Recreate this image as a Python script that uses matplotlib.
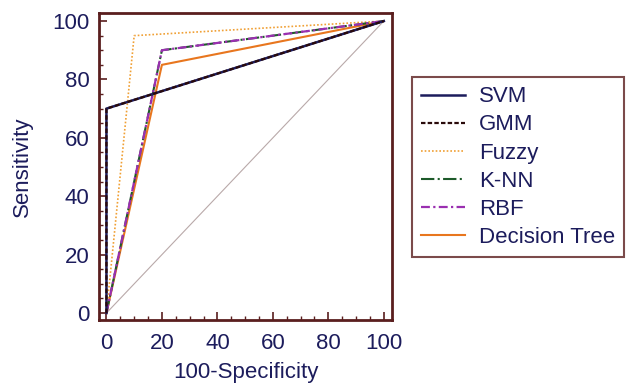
import numpy as np
import matplotlib
matplotlib.use("Agg")
import matplotlib.pyplot as plt
from matplotlib.ticker import MultipleLocator

plt.rcParams['font.family'] = ['Liberation Sans', 'DejaVu Sans']

# ROC points (100-specificity, sensitivity)
svm_x = [0, 0, 100]
svm_y = [0, 70, 100]
gmm_x = [0, 0, 100]
gmm_y = [0, 70, 100]
fuzzy_x = [0, 10, 100]
fuzzy_y = [0, 95, 100]
knn_x = [0, 20, 100]
knn_y = [0, 90, 100]
rbf_x = [0, 20, 100]
rbf_y = [0, 90, 100]
tree_x = [0, 20, 100]
tree_y = [0, 85, 100]
diag = [0, 100]

navy = '#1c1c5c'
frame = '#5a1e1e'

fig = plt.figure(figsize=(6.28, 3.87), dpi=100)
ax = fig.add_axes([0.158, 0.173, 0.466, 0.793])

ax.plot(diag, diag, color='#b9a9a9', lw=0.8)
ax.plot(fuzzy_x, fuzzy_y, color='#f0a035', lw=1.2, ls=(0, (1, 1.2)), label='Fuzzy')
ax.plot(tree_x, tree_y, color='#e8761e', lw=1.5, label='Decision Tree')
ax.plot(knn_x, knn_y, color='#1d5a2a', lw=1.5, ls='-.', label='K-NN')
ax.plot(rbf_x, rbf_y, color='#9a2fb0', lw=1.6, ls=(0, (4, 1.5, 1, 1.5)), label='RBF')
ax.plot(svm_x, svm_y, color='#1c1c5c', lw=1.8, label='SVM')
ax.plot(gmm_x, gmm_y, color='#2a0a0a', lw=1.6, ls=(0, (2, 1)), label='GMM')

ax.set_xlim(-2.6, 102.9)
ax.set_ylim(-2.4, 102.7)
ax.xaxis.set_major_locator(MultipleLocator(20))
ax.yaxis.set_major_locator(MultipleLocator(20))
ax.xaxis.set_minor_locator(MultipleLocator(5))
ax.yaxis.set_minor_locator(MultipleLocator(5))
ax.tick_params(which='major', direction='in', length=6, width=1.2, color=frame,
               labelsize=16, labelcolor=navy, pad=7)
ax.tick_params(axis='x', which='major', pad=9)
ax.tick_params(which='minor', direction='in', length=3, width=1.0, color=frame)
for s in ax.spines.values():
    s.set_color(frame)
    s.set_linewidth(2)

ax.set_xlabel('100-Specificity', fontsize=16, color=navy, labelpad=6)
ax.set_ylabel('Sensitivity', fontsize=16, color=navy, labelpad=14)

handles, labels = ax.get_legend_handles_labels()
order = ['SVM', 'GMM', 'Fuzzy', 'K-NN', 'RBF', 'Decision Tree']
hmap = dict(zip(labels, handles))
leg = fig.legend([hmap[k] for k in order], order, loc='upper left',
                 bbox_to_anchor=(0.656, 0.800), fontsize=16, frameon=True,
                 fancybox=False, borderpad=0.4, labelspacing=0.32,
                 handlelength=2.0, handletextpad=0.6, borderaxespad=0)
leg.get_frame().set_edgecolor(frame)
leg.get_frame().set_linewidth(1.5)
for t in leg.get_texts():
    t.set_color(navy)

fig.savefig('out.png', dpi=100)
